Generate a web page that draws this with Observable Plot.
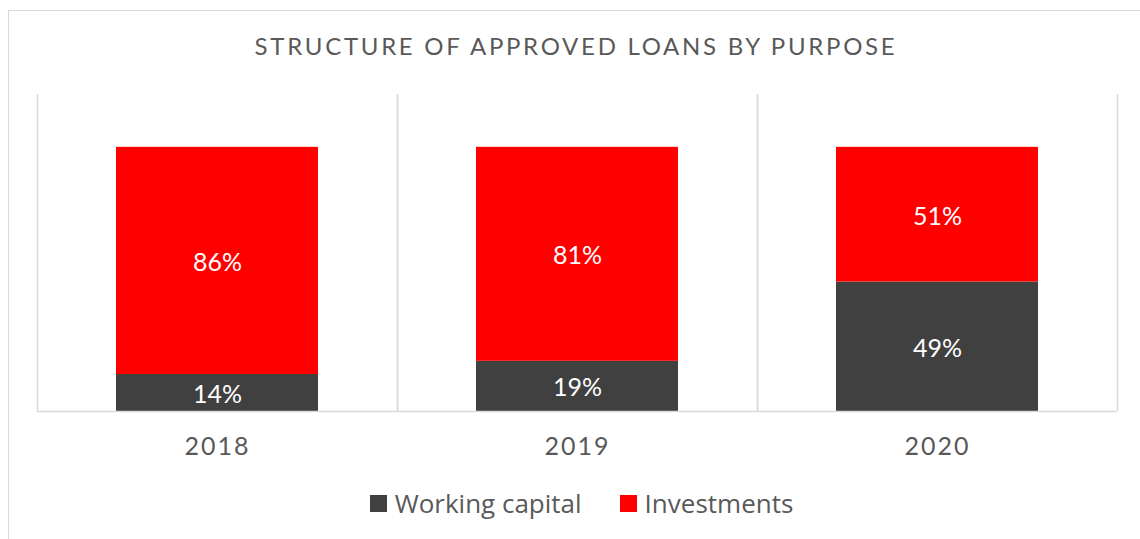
<!DOCTYPE html>
<html><head><meta charset="utf-8">
<script src="https://cdn.jsdelivr.net/npm/d3@7"></script>
<script src="https://cdn.jsdelivr.net/npm/@observablehq/plot@0.6"></script>
<style>
html,body{margin:0;padding:0;background:#fff;overflow:hidden;}
#wrap{position:relative;width:1140px;height:539px;font-family:Lato,sans-serif;color:#595959;overflow:hidden;}
#border{position:absolute;left:8px;top:10px;width:1300px;height:700px;border:1.5px solid #d9d9d9;}
#title{position:absolute;left:0;width:1152px;top:30px;text-align:center;font-size:24px;letter-spacing:2.7px;line-height:32px;}
#chart{position:absolute;left:0;top:80px;}
#legend{position:absolute;top:487px;left:0;width:1163px;display:flex;justify-content:center;font-family:"Open Sans",sans-serif;font-size:26px;line-height:32px;}
.item{display:flex;align-items:center;margin:0 19px;}
.sw{width:17px;height:17px;margin-right:8px;}
</style></head>
<body>
<div id="wrap">
  <div id="border"></div>
  <div id="title"></div>
  <div id="chart"></div>
  <div id="legend"></div>
</div>
<script>
const title = "STRUCTURE OF APPROVED LOANS BY PURPOSE";
const years = ["2018", "2019", "2020"];
const series = ["Working capital", "Investments"];
const workingCapital = [14, 19, 49];
const investments = [86, 81, 51];
const colors = ["#404040", "#ff0000"];

const rows = [];
years.forEach((y, i) => {
  rows.push({year: y, series: series[0], value: workingCapital[i]});
  rows.push({year: y, series: series[1], value: investments[i]});
});

document.getElementById("title").textContent = title;

const chart = Plot.plot({
  width: 1140,
  height: 400,
  marginLeft: 36,
  marginRight: 22,
  marginTop: 14,
  marginBottom: 69,
  style: {fontFamily: "Lato, sans-serif", fontSize: "25px", color: "#595959", background: "transparent"},
  fx: {domain: years, padding: 0, axis: "bottom", tickSize: 0, tickPadding: 26, label: null},
  x: {domain: [0, 1], axis: null},
  y: {domain: [0, 120], axis: null},
  color: {domain: series, range: colors},
  marks: [
    Plot.ruleX([0, 1], {stroke: "#d9d9d9", strokeWidth: 1.5}),
    Plot.barY(rows, {fx: "year", y: "value", fill: "series", insetLeft: 79, insetRight: 79}),
    Plot.ruleY([0], {stroke: "#d9d9d9", strokeWidth: 1.5}),
    Plot.text(rows, Plot.stackY({fx: "year", y: "value", z: "series", text: d => d.value + "%", fill: "white", fontSize: 25, dy: 2}))
  ]
});
document.getElementById("chart").appendChild(chart);
chart.querySelectorAll("g[aria-label='fx-axis'] text, g[aria-label='fx-axis tick label'] text").forEach(t => t.style.letterSpacing = "2px");

const legend = document.getElementById("legend");
series.forEach((s, i) => {
  const item = document.createElement("div");
  item.className = "item";
  const sw = document.createElement("div");
  sw.className = "sw";
  sw.style.background = colors[i];
  const label = document.createElement("span");
  label.textContent = s;
  item.appendChild(sw);
  item.appendChild(label);
  legend.appendChild(item);
});
</script>
</body></html>
